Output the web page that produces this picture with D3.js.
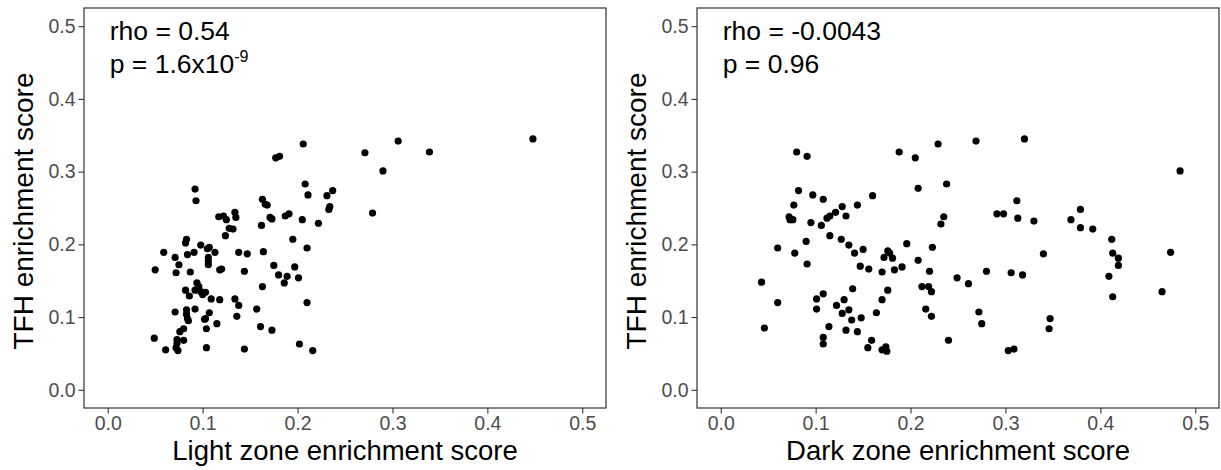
<!DOCTYPE html>
<html>
<head>
<meta charset="utf-8">
<script src="https://cdn.jsdelivr.net/npm/d3@7"></script>
<style>
  body { margin: 0; background: #fff; }
  text { font-family: "Liberation Sans", Arial, sans-serif; }
</style>
</head>
<body>
<svg id="chart" width="1221" height="470"></svg>
<script>
// axis ticks shared by both panels
const tickValues = [0, 0.1, 0.2, 0.3, 0.4, 0.5];

// light zone vs TFH
const lightX = [0.092,0.093,0.117,0.122,0.134,0.135,0.125,0.128,0.132,0.124,0.083,0.082,0.098,0.107,0.105,0.059,0.084,0.091,0.106,0.106,
  0.106,0.113,0.138,0.147,0.071,0.075,0.050,0.072,0.087,0.118,0.120,0.144,0.094,0.096,0.092,0.082,0.086,0.098,0.103,0.100,
  0.109,0.118,0.134,0.138,0.071,0.083,0.083,0.084,0.085,0.092,0.107,0.103,0.102,0.136,0.115,0.104,0.080,0.076,0.049,0.073,
  0.080,0.073,0.072,0.074,0.061,0.104,0.144,0.448,0.306,0.206,0.177,0.181,0.271,0.339,0.290,0.208,0.211,0.231,0.237,0.233,
  0.234,0.279,0.163,0.166,0.168,0.171,0.173,0.162,0.187,0.191,0.205,0.222,0.195,0.210,0.164,0.175,0.197,0.180,0.189,0.186,
  0.201,0.163,0.210,0.157,0.161,0.173,0.202,0.216];
const lightY = [0.276,0.260,0.238,0.239,0.244,0.237,0.234,0.222,0.221,0.212,0.207,0.202,0.199,0.196,0.194,0.189,0.186,0.189,0.182,0.177,
  0.172,0.189,0.189,0.187,0.182,0.172,0.165,0.161,0.162,0.165,0.166,0.163,0.147,0.142,0.137,0.137,0.129,0.135,0.134,0.131,
  0.125,0.124,0.125,0.116,0.107,0.110,0.104,0.098,0.095,0.111,0.106,0.098,0.097,0.101,0.091,0.084,0.084,0.080,0.071,0.069,
  0.068,0.064,0.058,0.054,0.055,0.058,0.056,0.345,0.342,0.338,0.319,0.321,0.326,0.327,0.301,0.283,0.268,0.267,0.274,0.248,
  0.252,0.243,0.262,0.255,0.254,0.237,0.235,0.226,0.239,0.242,0.234,0.229,0.207,0.195,0.190,0.171,0.169,0.158,0.156,0.147,
  0.154,0.142,0.120,0.111,0.087,0.082,0.063,0.054];

// dark zone vs TFH
const darkX = [0.080,0.091,0.188,0.082,0.097,0.108,0.160,0.077,0.128,0.144,0.072,0.073,0.076,0.121,0.115,0.112,0.132,0.095,0.106,0.115,
  0.127,0.135,0.090,0.060,0.078,0.150,0.141,0.176,0.178,0.172,0.181,0.196,0.091,0.147,0.156,0.170,0.183,0.191,0.043,0.060,
  0.046,0.101,0.108,0.101,0.139,0.130,0.122,0.135,0.128,0.138,0.148,0.176,0.170,0.164,0.114,0.132,0.144,0.108,0.108,0.159,
  0.155,0.170,0.174,0.175,0.205,0.229,0.269,0.320,0.484,0.208,0.238,0.312,0.235,0.232,0.291,0.298,0.313,0.330,0.369,0.379,
  0.379,0.392,0.412,0.413,0.419,0.419,0.409,0.413,0.474,0.465,0.223,0.208,0.220,0.340,0.249,0.261,0.280,0.306,0.318,0.212,
  0.219,0.222,0.216,0.222,0.272,0.275,0.347,0.346,0.240,0.303,0.309];
const darkY = [0.327,0.321,0.327,0.274,0.268,0.262,0.267,0.254,0.252,0.254,0.238,0.234,0.234,0.244,0.239,0.236,0.239,0.230,0.226,0.212,
  0.207,0.199,0.204,0.195,0.188,0.193,0.188,0.191,0.188,0.182,0.181,0.201,0.173,0.170,0.166,0.162,0.165,0.169,0.148,0.120,
  0.085,0.125,0.132,0.111,0.139,0.124,0.116,0.110,0.105,0.096,0.099,0.137,0.124,0.106,0.087,0.082,0.080,0.072,0.063,0.068,
  0.058,0.055,0.059,0.053,0.319,0.338,0.342,0.345,0.301,0.277,0.283,0.260,0.238,0.228,0.242,0.242,0.236,0.232,0.234,0.248,
  0.223,0.221,0.207,0.188,0.181,0.171,0.156,0.128,0.189,0.135,0.196,0.178,0.163,0.187,0.154,0.146,0.163,0.161,0.158,0.142,
  0.142,0.135,0.111,0.101,0.107,0.091,0.098,0.084,0.068,0.054,0.056];

const yTitle = "TFH enrichment score";
const xTitles = ["Light zone enrichment score", "Dark zone enrichment score"];
const rhoLabels = ["rho = 0.54", "rho = -0.0043"];
const pLabels = [["p = 1.6x10", "-9"], ["p = 0.96", ""]];

const svg = d3.select("#chart");
const plotTop = 8, plotBottom = 408, panelW = 522;
const lefts = [84, 697];
const series = [[lightX, lightY], [darkX, darkY]];

series.forEach(([xs, ys], i) => {
  const left = lefts[i];
  const x = d3.scaleLinear().domain([-0.025, 0.525]).range([left, left + panelW]);
  const y = d3.scaleLinear().domain([-0.025, 0.525]).range([plotBottom, plotTop]);

  // points
  svg.append("g").selectAll("circle")
    .data(xs.map((v, k) => [v, ys[k]]))
    .enter().append("circle")
    .attr("cx", d => x(d[0]))
    .attr("cy", d => y(d[1]))
    .attr("r", 3.6)
    .attr("fill", "#000");

  // axes
  const xAxis = svg.append("g")
    .attr("transform", `translate(0,${plotBottom})`)
    .call(d3.axisBottom(x).tickValues(tickValues).tickFormat(d3.format(".1f")).tickSize(5.5).tickPadding(3));
  const yAxis = svg.append("g")
    .attr("transform", `translate(${left},0)`)
    .call(d3.axisLeft(y).tickValues(tickValues).tickFormat(d3.format(".1f")).tickSize(5.5).tickPadding(3));
  [xAxis, yAxis].forEach(a => {
    a.select(".domain").remove();
    a.selectAll("line").attr("stroke", "#333").attr("stroke-width", 1.1);
    a.selectAll("text").attr("fill", "#4d4d4d").style("font-size", "19.5px")
      .style("font-family", "'Liberation Sans', Arial, sans-serif");
  });

  // panel border
  svg.append("rect")
    .attr("x", left).attr("y", plotTop)
    .attr("width", panelW).attr("height", plotBottom - plotTop)
    .attr("fill", "none").attr("stroke", "#333").attr("stroke-width", 1.2);

  // titles
  svg.append("text")
    .attr("x", left + panelW / 2).attr("y", 460)
    .attr("text-anchor", "middle")
    .style("font-size", "27.5px")
    .text(xTitles[i]);
  svg.append("text")
    .attr("transform", `translate(${left - 51},${(plotTop + plotBottom) / 2 + 3}) rotate(-90)`)
    .attr("text-anchor", "middle")
    .style("font-size", "28px")
    .text(yTitle);

  // correlation labels
  svg.append("text")
    .attr("x", x(0) + 2).attr("y", 40)
    .style("font-size", "26.5px")
    .text(rhoLabels[i]);
  const pt = svg.append("text")
    .attr("x", x(0) + 2).attr("y", 73)
    .style("font-size", "26.5px")
    .text(pLabels[i][0]);
  if (pLabels[i][1]) {
    pt.append("tspan")
      .attr("dy", -11)
      .style("font-size", "16px")
      .text(pLabels[i][1]);
  }
});
</script>
</body>
</html>
